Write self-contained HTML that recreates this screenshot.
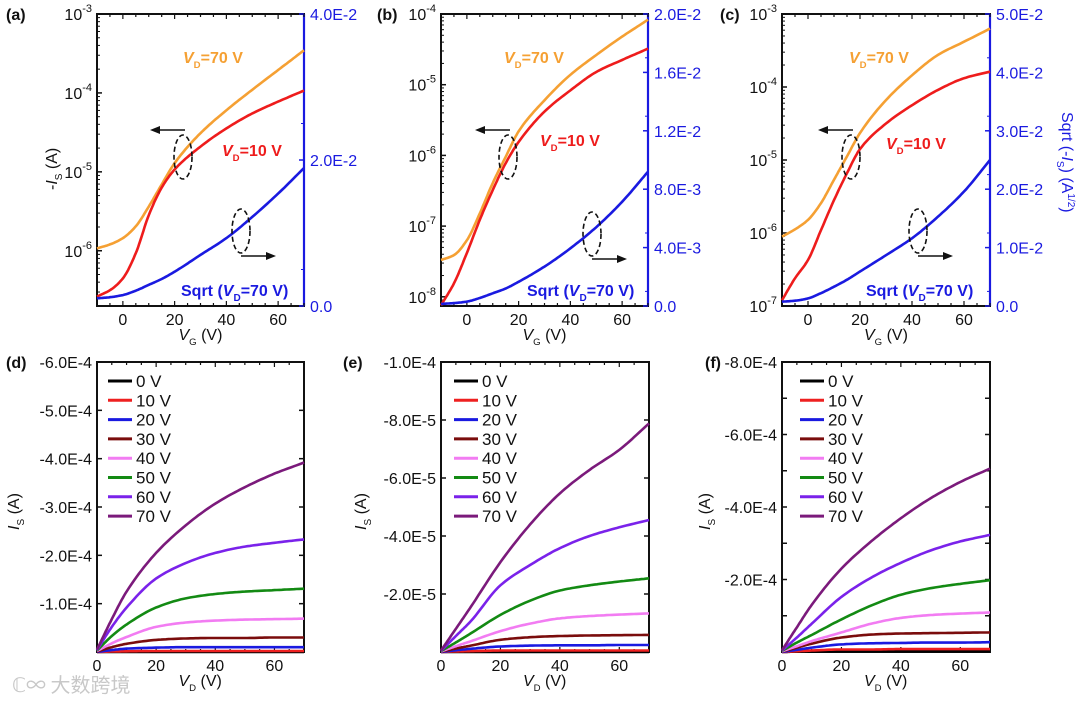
<!DOCTYPE html>
<html><head><meta charset="utf-8"><style>
body{margin:0;background:#fff;}
svg{display:block;font-family:"Liberation Sans","Noto Sans CJK SC",sans-serif;}
</style></head><body>
<svg id="fig" width="1080" height="702" viewBox="0 0 1080 702"></svg>
<script>
// ---------- data: transfer curves (x = VG) ----------
const vgVals = [-10,-5,0,5,10,15,20,30,40,50,60,70];
const aOrangeLog = [-5.97,-5.92,-5.84,-5.69,-5.44,-5.16,-4.89,-4.51,-4.22,-3.96,-3.71,-3.46];
const aRedLog    = [-6.58,-6.50,-6.35,-6.03,-5.55,-5.20,-4.97,-4.68,-4.45,-4.26,-4.11,-3.97];
const aBlueSqrt  = [0.00105,0.0012,0.0015,0.0021,0.0029,0.0037,0.0047,0.007,0.0093,0.0122,0.0154,0.0189];
const bOrangeLog = [-7.48,-7.41,-7.20,-6.82,-6.39,-6.02,-5.66,-5.22,-4.86,-4.58,-4.32,-4.08];
const bRedLog    = [-8.12,-7.81,-7.38,-6.91,-6.49,-6.11,-5.81,-5.38,-5.08,-4.82,-4.65,-4.49];
const bBlueSqrt  = [0.00014,0.0002,0.0003,0.00055,0.00087,0.0012,0.00166,0.0027,0.00395,0.0054,0.00714,0.0092];
const cOrangeLog = [-6.05,-5.95,-5.82,-5.59,-5.27,-4.95,-4.63,-4.18,-3.84,-3.56,-3.38,-3.2];
const cRedLog    = [-6.92,-6.62,-6.37,-5.96,-5.55,-5.18,-4.85,-4.50,-4.25,-4.04,-3.88,-3.79];
const cBlueSqrt  = [0.00074,0.0009,0.0013,0.0022,0.0033,0.0045,0.0059,0.0087,0.0116,0.0153,0.0196,0.025];
// ---------- data: output curves (x = VD) ----------
const vdVals = [0,5,10,20,30,40,50,60,70];
const gateLabels = ["0 V","10 V","20 V","30 V","40 V","50 V","60 V","70 V"];
const dCurves = [ // units 1e-4 A
 [0,0,0,0,0,0,0,0,0],
 [0,0.01,0.015,0.02,0.02,0.02,0.02,0.02,0.02],
 [0,0.04,0.07,0.09,0.1,0.1,0.1,0.1,0.1],
 [0.01,0.1,0.17,0.25,0.28,0.29,0.29,0.3,0.3],
 [0.02,0.18,0.31,0.52,0.61,0.65,0.67,0.68,0.69],
 [0.03,0.33,0.57,0.92,1.11,1.2,1.25,1.28,1.31],
 [0.04,0.52,0.92,1.52,1.84,2.05,2.18,2.26,2.33],
 [0.05,0.68,1.25,2.05,2.62,3.07,3.41,3.69,3.92]];
const eCurves = [ // units 1e-5 A
 [0,0,0,0,0,0,0,0,0],
 [0,0.02,0.03,0.05,0.05,0.05,0.05,0.05,0.05],
 [0,0.06,0.11,0.19,0.22,0.23,0.23,0.24,0.24],
 [0.01,0.12,0.22,0.42,0.51,0.55,0.57,0.58,0.59],
 [0.02,0.2,0.37,0.72,0.98,1.16,1.24,1.29,1.33],
 [0.03,0.33,0.64,1.28,1.77,2.12,2.3,2.43,2.54],
 [0.04,0.55,1.06,2.3,3.0,3.58,4.0,4.3,4.55],
 [0.05,0.8,1.55,3.1,4.4,5.47,6.28,6.97,7.88]];
const fCurves = [ // units 1e-4 A
 [0,0.01,0.01,0.02,0.02,0.02,0.02,0.02,0.02],
 [0,0.02,0.04,0.07,0.07,0.08,0.08,0.08,0.08],
 [0,0.06,0.12,0.21,0.24,0.25,0.26,0.26,0.27],
 [0.01,0.12,0.23,0.4,0.48,0.51,0.52,0.53,0.54],
 [0.02,0.16,0.3,0.54,0.78,0.94,1.02,1.06,1.09],
 [0.03,0.26,0.47,0.9,1.28,1.58,1.76,1.88,1.98],
 [0.04,0.4,0.78,1.52,2.05,2.46,2.8,3.05,3.23],
 [0.05,0.68,1.3,2.3,3.05,3.69,4.24,4.69,5.06]];
const gateColors = ["#000000","#ee2020","#1a1ae0","#7a0c0c","#f27cf2","#138a13","#7a22ea","#7b1a7b"];

const NS="http://www.w3.org/2000/svg";
const svg=document.getElementById('fig');
function el(tag,attrs,parent,text){const e=document.createElementNS(NS,tag);for(const k in attrs)e.setAttribute(k,attrs[k]);if(text!==undefined)e.textContent=text;(parent||svg).appendChild(e);return e;}
// monotone cubic interpolation (Fritsch-Carlson), sampled densely in data space
function monoPath(xv,yv,xs,ys){
  const n=xv.length,h=[],d=[],m=new Array(n);
  for(let i=0;i<n-1;i++){h[i]=xv[i+1]-xv[i];d[i]=(yv[i+1]-yv[i])/h[i];}
  m[0]=d[0];m[n-1]=d[n-2];
  for(let i=1;i<n-1;i++){if(d[i-1]*d[i]<=0)m[i]=0;else{const w1=2*h[i]+h[i-1],w2=h[i]+2*h[i-1];m[i]=(w1+w2)/(w1/d[i-1]+w2/d[i]);}}
  let s='';
  for(let i=0;i<n-1;i++){for(let k=0;k<=12;k++){if(i>0&&k===0)continue;const t=k/12,hh=h[i];
    const h00=2*t*t*t-3*t*t+1,h10=t*t*t-2*t*t+t,h01=-2*t*t*t+3*t*t,h11=t*t*t-t*t;
    const y=h00*yv[i]+h10*hh*m[i]+h01*yv[i+1]+h11*hh*m[i+1];const x=xv[i]+t*hh;
    s+=(s?'L':'M')+xs(x).toFixed(1)+','+ys(y).toFixed(1);}}
  return s;}
function sub(parent,x,y,main,subs,attrs,italic){
  const t=el('text',Object.assign({x:x,y:y},attrs),parent);
  const a=document.createElementNS(NS,'tspan');a.textContent=main;if(italic)a.setAttribute('font-style','italic');t.appendChild(a);
  const b=document.createElementNS(NS,'tspan');b.textContent=subs;b.setAttribute('font-size','0.6em');b.setAttribute('dy','5');t.appendChild(b);
  return t;}

// ---------- transfer panels ----------
function transferPanel(o){
  const g=el('g',{});
  
  
  const L=o.x0,R=o.x1,T=14,B=306;
  const xs=v=>L+(v+10)/80*(R-L);
  const ys=lg=>T+(o.logTop-lg)/(o.logTop-o.logBot)*(B-T);
  const yr=v=>B-v/o.rMax*(B-T);
  el('rect',{x:L,y:T,width:R-L,height:B-T,fill:'none',stroke:'#111','stroke-width':2},g);
  el('line',{x1:R,y1:T,x2:R,y2:B,stroke:'#1a1ae0','stroke-width':2.2},g);
  for(let d=Math.ceil(o.logBot);d<=o.logTop;d++){
    const y=ys(d);
    if(y>=T-0.5&&y<=B+0.5){el('line',{x1:L,y1:y,x2:L+5,y2:y,stroke:'#111','stroke-width':1.5},g);
      const t=el('text',{x:L-5,y:y+6,'text-anchor':'end','font-size':16,fill:'#111'},g,'10');
      const s=document.createElementNS(NS,'tspan');s.textContent=String(d);s.setAttribute('font-size','11');s.setAttribute('dy','-8');t.appendChild(s);
      }
    for(let m=2;m<10;m++){const ym=ys(d-1+Math.log10(m));if(ym>T&&ym<B)el('line',{x1:L,y1:ym,x2:L+3,y2:ym,stroke:'#111','stroke-width':1},g);}
  }
  o.rTicks.forEach((v,i)=>{const y=yr(v);el('line',{x1:R-5,y1:y,x2:R,y2:y,stroke:'#1a1ae0','stroke-width':1.5},g);
    const t=el('text',{x:R+6,y:y+6,'font-size':16,fill:'#1a1ae0'},g,o.rLabels[i]);
    
    const ym=yr(v+o.rStep/2);if(ym>T)el('line',{x1:R-3,y1:ym,x2:R,y2:ym,stroke:'#1a1ae0','stroke-width':1},g);});
  for(let v=-10;v<=70;v+=5){const x=xs(v);const maj=v%20===0;el('line',{x1:x,y1:B,x2:x,y2:B-(maj?5:3),stroke:'#111','stroke-width':1.2},g);el('line',{x1:x,y1:T,x2:x,y2:T+(maj?5:3),stroke:'#111','stroke-width':1.2},g);
    if(maj){const t=el('text',{x:x,y:B+19,'text-anchor':'middle','font-size':16,fill:'#111'},g,String(v));}}
  const xt=sub(g,(L+R)/2-22,B+34,'V','G',{'font-size':16,fill:'#111'},true);
  xt.appendChild(Object.assign(document.createElementNS(NS,'tspan'),{textContent:' (V)'})).setAttribute('dy','-5');
  
  const po=el('path',{d:monoPath(vgVals,o.orange,xs,ys),fill:'none',stroke:'#f5a033','stroke-width':2.6},g);
  
  const pr=el('path',{d:monoPath(vgVals,o.red,xs,ys),fill:'none',stroke:'#ee1c1c','stroke-width':2.6},g);
  
  const pb=el('path',{d:monoPath(vgVals,o.blue,xs,yr),fill:'none',stroke:'#1a1ae0','stroke-width':2.6},g);
  
  const l1=sub(g,o.l70[0],o.l70[1],'V','D',{'font-size':16,'font-weight':'bold',fill:'#f5a033'},true);
  l1.appendChild(Object.assign(document.createElementNS(NS,'tspan'),{textContent:'=70 V'})).setAttribute('dy','-5');
  
  const l2=sub(g,o.l10[0],o.l10[1],'V','D',{'font-size':16,'font-weight':'bold',fill:'#ee1c1c'},true);
  l2.appendChild(Object.assign(document.createElementNS(NS,'tspan'),{textContent:'=10 V'})).setAttribute('dy','-5');
  
  const l3=el('text',{x:o.lsq[0],y:o.lsq[1],'font-size':16,'font-weight':'bold',fill:'#1a1ae0'},g,'Sqrt (');
  const ti=document.createElementNS(NS,'tspan');ti.textContent='V';ti.setAttribute('font-style','italic');l3.appendChild(ti);
  const ts=document.createElementNS(NS,'tspan');ts.textContent='D';ts.setAttribute('font-size','10');ts.setAttribute('dy','5');l3.appendChild(ts);
  const tr=document.createElementNS(NS,'tspan');tr.textContent='=70 V)';tr.setAttribute('dy','-5');l3.appendChild(tr);
  
  const e1=el('ellipse',{cx:o.e1[0],cy:o.e1[1],rx:9,ry:22,fill:'none',stroke:'#111','stroke-width':1.6,'stroke-dasharray':'5,3'},g);
  
  el('line',{x1:o.e1[0]+2,y1:o.e1[1]-27,x2:o.e1[0]-26,y2:o.e1[1]-27,stroke:'#111','stroke-width':1.6},g);
  el('polygon',{points:`${o.e1[0]-33},${o.e1[1]-27} ${o.e1[0]-23},${o.e1[1]-31} ${o.e1[0]-23},${o.e1[1]-23}`,fill:'#111'},g);
  const e2=el('ellipse',{cx:o.e2[0],cy:o.e2[1],rx:9,ry:22,fill:'none',stroke:'#111','stroke-width':1.6,'stroke-dasharray':'5,3'},g);
  
  el('line',{x1:o.e2[0],y1:o.e2[1]+25,x2:o.e2[0]+28,y2:o.e2[1]+25,stroke:'#111','stroke-width':1.6},g);
  el('polygon',{points:`${o.e2[0]+35},${o.e2[1]+25} ${o.e2[0]+25},${o.e2[1]+21} ${o.e2[0]+25},${o.e2[1]+29}`,fill:'#111'},g);
  const pl=el('text',{x:o.plx,y:20,'font-size':16,'font-weight':'bold',fill:'#111'},g,'('+o.id+')');
  
}
transferPanel({id:'a',x0:97,x1:304,logTop:-3,logBot:-6.7,orange:aOrangeLog,red:aRedLog,blue:aBlueSqrt,rMax:0.04,rStep:0.01,rTicks:[0,0.02,0.04],rLabels:['0.0','2.0E-2','4.0E-2'],l70:[183,63],l10:[222,156],lsq:[181,296],e1:[183,157],e2:[241,231],plx:6});
transferPanel({id:'b',x0:441,x1:648,logTop:-4,logBot:-8.13,orange:bOrangeLog,red:bRedLog,blue:bBlueSqrt,rMax:0.02,rStep:0.002,rTicks:[0,0.004,0.008,0.012,0.016,0.02],rLabels:['0.0','4.0E-3','8.0E-3','1.2E-2','1.6E-2','2.0E-2'],l70:[504,63],l10:[540,146],lsq:[527,296],e1:[508,157],e2:[592,234],plx:377});
transferPanel({id:'c',x0:782,x1:990,logTop:-3,logBot:-7,orange:cOrangeLog,red:cRedLog,blue:cBlueSqrt,rMax:0.05,rStep:0.005,rTicks:[0,0.01,0.02,0.03,0.04,0.05],rLabels:['0.0','1.0E-2','2.0E-2','3.0E-2','4.0E-2','5.0E-2'],l70:[849,63],l10:[886,149],lsq:[866,296],e1:[851,157],e2:[918,231],plx:720});
{const t=el('text',{transform:'translate(57,190) rotate(-90)','font-size':16,fill:'#111'},svg,'-');
 const i=document.createElementNS(NS,'tspan');i.textContent='I';i.setAttribute('font-style','italic');t.appendChild(i);
 const s=document.createElementNS(NS,'tspan');s.textContent='S';s.setAttribute('font-size','10');s.setAttribute('dy','5');t.appendChild(s);
 const r=document.createElementNS(NS,'tspan');r.textContent=' (A)';r.setAttribute('dy','-5');t.appendChild(r);
 }
{const t=el('text',{transform:'translate(1062,112) rotate(90)','font-size':16,fill:'#1a1ae0'},svg,'Sqrt (-');
 const i=document.createElementNS(NS,'tspan');i.textContent='I';i.setAttribute('font-style','italic');t.appendChild(i);
 const s=document.createElementNS(NS,'tspan');s.textContent='S';s.setAttribute('font-size','10');s.setAttribute('dy','5');t.appendChild(s);
 const r=document.createElementNS(NS,'tspan');r.textContent=') (A';r.setAttribute('dy','-5');t.appendChild(r);
 const s2=document.createElementNS(NS,'tspan');s2.textContent='1/2';s2.setAttribute('font-size','10');s2.setAttribute('dy','-6');t.appendChild(s2);
 const r2=document.createElementNS(NS,'tspan');r2.textContent=')';r2.setAttribute('dy','6');t.appendChild(r2);
 }

// ---------- output panels ----------
function outputPanel(o){
  const g=el('g',{});
  
  
  const L=o.x0,R=o.x1,T=362,B=652;
  const xs=v=>L+v/70*(R-L);
  const ys=v=>B-v/o.yMax*(B-T);
  el('rect',{x:L,y:T,width:R-L,height:B-T,fill:'none',stroke:'#111','stroke-width':2},g);
  o.ticks.forEach((v,i)=>{const y=ys(v);el('line',{x1:L,y1:y,x2:L+5,y2:y,stroke:'#111','stroke-width':1.5},g);el('line',{x1:R-5,y1:y,x2:R,y2:y,stroke:'#111','stroke-width':1.5},g);
    if(o.labels[i]){const t=el('text',{x:L-5,y:y+6,'text-anchor':'end','font-size':16,fill:'#111'},g,o.labels[i]);}});
  for(let v=0;v<=70;v+=5){const x=xs(v);const maj=v%20===0;el('line',{x1:x,y1:B,x2:x,y2:B-(maj?5:3),stroke:'#111','stroke-width':1.2},g);el('line',{x1:x,y1:T,x2:x,y2:T+(maj?5:3),stroke:'#111','stroke-width':1.2},g);
    if(maj){const t=el('text',{x:x,y:B+19,'text-anchor':'middle','font-size':16,fill:'#111'},g,String(v));}}
  const xt=sub(g,(L+R)/2-22,B+34,'V','D',{'font-size':16,fill:'#111'},true);
  xt.appendChild(Object.assign(document.createElementNS(NS,'tspan'),{textContent:' (V)'})).setAttribute('dy','-5');
  
  o.curves.forEach((c,k)=>{const p=el('path',{d:monoPath(vdVals,c,xs,ys),fill:'none',stroke:gateColors[k],'stroke-width':2.6},g);
    });
  gateLabels.forEach((lab,k)=>{const y=381+k*19.3;
    const lg=el('g',{},g);
    el('line',{x1:o.lx,y1:y,x2:o.lx+24,y2:y,stroke:gateColors[k],'stroke-width':3},lg);
    el('text',{x:o.lx+28,y:y+6,'font-size':17,fill:'#111'},lg,lab);});
  const t=el('text',{transform:`translate(${o.yTitleX},${o.yTitleY}) rotate(-90)`,'font-size':16,fill:'#111'},g);
  const i=document.createElementNS(NS,'tspan');i.textContent='I';i.setAttribute('font-style','italic');t.appendChild(i);
  const s=document.createElementNS(NS,'tspan');s.textContent='S';s.setAttribute('font-size','10');s.setAttribute('dy','5');t.appendChild(s);
  const r=document.createElementNS(NS,'tspan');r.textContent=' (A)';r.setAttribute('dy','-5');t.appendChild(r);
  
  const pl=el('text',{x:o.plx,y:368,'font-size':16,'font-weight':'bold',fill:'#111'},g,'('+o.id+')');
  
}
outputPanel({id:'d',x0:97,x1:304,yMax:6,curves:dCurves,ticks:[0,1,2,3,4,5,6],labels:['','-1.0E-4','-2.0E-4','-3.0E-4','-4.0E-4','-5.0E-4','-6.0E-4'],lx:108,yTitleX:19,yTitleY:530,plx:6});
outputPanel({id:'e',x0:441,x1:649,yMax:10,curves:eCurves,ticks:[0,2,4,6,8,10],labels:['','-2.0E-5','-4.0E-5','-6.0E-5','-8.0E-5','-1.0E-4'],lx:454,yTitleX:366,yTitleY:530,plx:343});
outputPanel({id:'f',x0:782,x1:990,yMax:8,curves:fCurves,ticks:[0,1,2,3,4,5,6,7,8],labels:['','','-2.0E-4','','-4.0E-4','','-6.0E-4','','-8.0E-4'],lx:800,yTitleX:710,yTitleY:530,plx:705});

const wm=el('text',{x:12,y:692,'font-size':20,fill:'#c8c8c8','font-family':'"Noto Sans CJK SC",sans-serif'},svg,'ℂ∞ 大数跨境');

</script>
</body></html>
